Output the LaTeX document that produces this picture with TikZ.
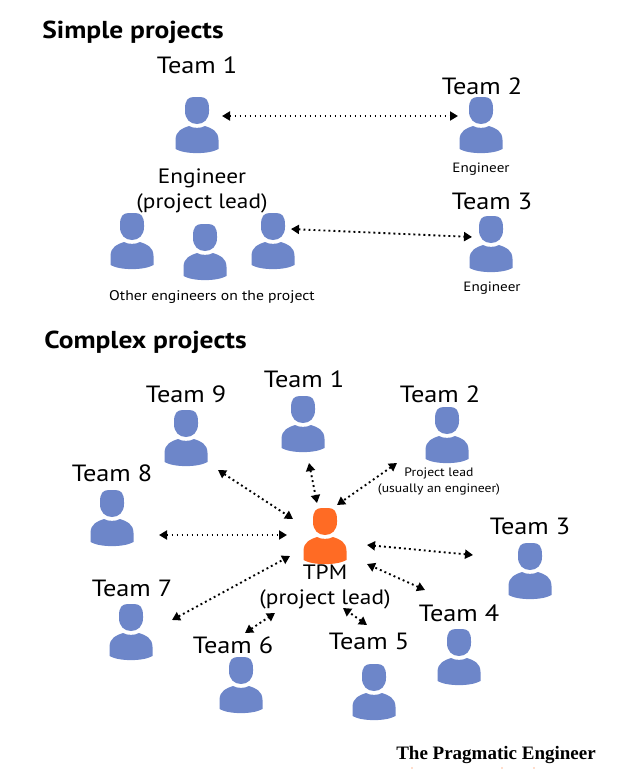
\documentclass[tikz,border=0pt]{standalone}
\usepackage{fontspec}
\setmainfont[FakeStretch=1.12]{PT Sans}
\newfontfamily\brandfont{Liberation Serif}
\usetikzlibrary{arrows.meta}
\definecolor{personblue}{HTML}{6D86C9}
\definecolor{personorange}{HTML}{FF6B24}
\tikzset{
  x=1pt,y=-1pt,
  person/.pic={
    \fill[pic actions] (-12,12) .. controls (-12,3) and (-9,0) .. (-3,0) -- (3,0) .. controls (9,0) and (12,3) .. (12,12)
      -- (12,14) .. controls (12,22) and (7,27) .. (0,27) .. controls (-7,27) and (-12,22) .. (-12,14) -- cycle;
    \fill[pic actions] (-21.5,52) -- (-21.5,43) .. controls (-21.5,33.5) and (-14,31) .. (-8,29)
      .. controls (-4,31.5) and (4,31.5) .. (8,29) .. controls (14,31) and (21.5,33.5) .. (21.5,43)
      -- (21.5,52) .. controls (12,57.5) and (-12,57.5) .. (-21.5,52) -- cycle;
  },
  link/.style={line width=1.9pt,dash pattern=on 1.9pt off 3.1pt,{Triangle[length=8pt,width=9pt]}-{Triangle[length=8pt,width=9pt]}},
  heading/.style={font=\fontsize{24.5}{26}\selectfont\bfseries,inner sep=0pt},
  team/.style={font=\fontsize{23.5}{24}\selectfont,inner sep=0pt},
  rolelabel/.style={font=\fontsize{20.8}{25}\selectfont,inner sep=0pt,align=center},
  small/.style={font=\fontsize{13.5}{16}\selectfont,inner sep=0pt,align=center},
  brand/.style={font=\fontsize{19}{22}\selectfont\brandfont\bfseries,inner sep=0pt},
  mark dot/.style={fill=personorange,inner sep=0pt,minimum size=1.2pt,shape=circle},
}
\begin{document}
\begin{tikzpicture}
\useasboundingbox (0,0) rectangle (638,769);
% people
\pic[personblue] at (197,97) {person};
\pic[personblue] at (481,97) {person};
\pic[personblue] at (491,216) {person};
\pic[personblue] at (132,213) {person};
\pic[personblue] at (205,224) {person};
\pic[personblue] at (273,213) {person};
\pic[personblue] at (303,396) {person};
\pic[personblue] at (447,407) {person};
\pic[personblue] at (530,543) {person};
\pic[personblue] at (459,629) {person};
\pic[personblue] at (374,664) {person};
\pic[personblue] at (241,657) {person};
\pic[personblue] at (131,604) {person};
\pic[personblue] at (112,490) {person};
\pic[personblue] at (186,410) {person};
\pic[personorange] at (325,508) {person};
% texts
\node[heading] (h1) at (133,32) {Simple projects};
\node[heading] (h2) at (145.5,342) {Complex projects};
\node[team] (s1) at (197,65) {Team 1};
\node[team] (s2) at (482,86) {Team 2};
\node[team] (s3) at (492,201) {Team 3};
\node[rolelabel] (lead) at (202,191) {Engineer\\(project lead)};
\node[small] (e2) at (481,169) {Engineer};
\node[small] (e3) at (492,288.5) {Engineer};
\node[small,font=\fontsize{14}{16}\selectfont] (others) at (212,296.5) {Other engineers on the project};
\node[team] (c1) at (304,379) {Team 1};
\node[team] (c2) at (440,394) {Team 2};
\node[team] (c3) at (530,526) {Team 3};
\node[team] (c4) at (459,613) {Team 4};
\node[team] (c5) at (369,641) {Team 5};
\node[team] (c6) at (233,645) {Team 6};
\node[team] (c7) at (132,588) {Team 7};
\node[team] (c8) at (112,473) {Team 8};
\node[team] (c9) at (186,394) {Team 9};
\node[small,font=\fontsize{12.2}{16}\selectfont] (pl) at (439,482) {Project lead\\(usually an engineer)};
\node[rolelabel] (tpm) at (325,587) {TPM\\(project lead)};
\node[brand] (b) at (496,755) {The Pragmatic Engineer};
\node[mark dot] (d1) at (412,768) {};
\node[mark dot] (d2) at (502,768) {};
\node[mark dot] (d3) at (534,768) {};
% connector ends
\coordinate (a1) at (222,116); \coordinate (a2) at (458,116);
\coordinate (b1) at (291,229); \coordinate (b2) at (472,237);
\coordinate (t1a) at (309,463); \coordinate (t1b) at (317,503);
\coordinate (t2a) at (397,463); \coordinate (t2b) at (337,505);
\coordinate (t3a) at (473,555); \coordinate (t3b) at (367,545);
\coordinate (t4a) at (425,590); \coordinate (t4b) at (367,564);
\coordinate (t5a) at (367,625); \coordinate (t5b) at (343,608);
\coordinate (t6a) at (245,633); \coordinate (t6b) at (275,613);
\coordinate (t7a) at (172,620); \coordinate (t7b) at (290,556);
\coordinate (t8a) at (159,535); \coordinate (t8b) at (287,535);
\coordinate (t9a) at (218,470); \coordinate (t9b) at (293,519);
\foreach \p/\q in {a1/a2,b1/b2,t1a/t1b,t2a/t2b,t3a/t3b,t4a/t4b,t5a/t5b,t6a/t6b,t7a/t7b,t8a/t8b,t9a/t9b}
  \draw[link] (\p) -- (\q);
\end{tikzpicture}
\end{document}
